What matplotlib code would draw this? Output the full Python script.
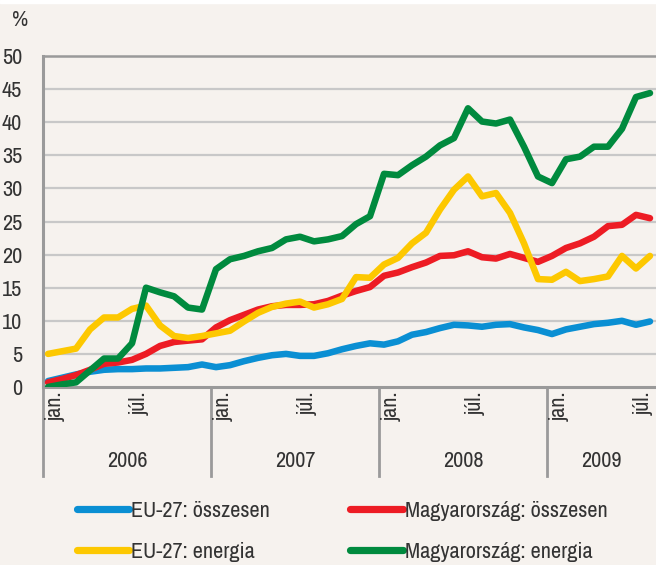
import numpy as np
import matplotlib
matplotlib.use("Agg")
from matplotlib import pyplot as plt
from matplotlib import font_manager
from matplotlib.transforms import blended_transform_factory

# a narrow face is closest to the original; fall back to Liberation Sans
fonts = font_manager.fontManager.ttflist
narrow = [f.name for f in fonts if "Narrow" in f.name or "Condensed" in f.name]
condensed_dejavu = any(f.name == "DejaVu Sans" and "condensed" in str(f.stretch)
                       for f in fonts)
if narrow:
    plt.rcParams["font.family"] = [narrow[0], "DejaVu Sans"]
    fs = 16
elif condensed_dejavu:
    plt.rcParams["font.family"] = ["DejaVu Sans"]
    plt.rcParams["font.stretch"] = "condensed"
    fs = 14
else:
    plt.rcParams["font.family"] = ["Liberation Sans", "DejaVu Sans"]
    fs = 14

# monthly values, jan. 2006 - aug. 2009 (%)
eu_total = [0.9, 1.4, 1.9, 2.3, 2.6, 2.7, 2.7, 2.8, 2.8, 2.9, 3.0, 3.4,
            3.0, 3.3, 3.9, 4.4, 4.8, 5.0, 4.7, 4.7, 5.1, 5.7, 6.2, 6.6,
            6.4, 6.9, 7.9, 8.3, 8.9, 9.4, 9.3, 9.1, 9.4, 9.5, 9.0, 8.6,
            8.0, 8.7, 9.1, 9.5, 9.7, 10.0, 9.4, 9.9]
hu_total = [0.7, 1.2, 1.8, 2.6, 3.5, 3.7, 4.1, 5.0, 6.2, 6.8, 7.0, 7.2,
            9.0, 10.1, 10.9, 11.7, 12.2, 12.4, 12.4, 12.5, 13.0, 13.8, 14.5, 15.1,
            16.8, 17.3, 18.1, 18.8, 19.8, 19.9, 20.5, 19.6, 19.4, 20.1, 19.5, 18.9,
            19.8, 21.0, 21.7, 22.7, 24.3, 24.5, 26.0, 25.5]
eu_energy = [5.0, 5.4, 5.8, 8.7, 10.5, 10.5, 11.8, 12.3, 9.3, 7.7, 7.4, 7.7,
             8.1, 8.5, 9.9, 11.2, 12.1, 12.6, 12.9, 12.0, 12.5, 13.3, 16.6, 16.5,
             18.5, 19.5, 21.7, 23.3, 26.8, 29.8, 31.8, 28.8, 29.3, 26.3, 21.7, 16.3,
             16.2, 17.4, 16.0, 16.3, 16.7, 19.8, 17.9, 19.8]
hu_energy = [0.0, 0.4, 0.7, 2.5, 4.3, 4.3, 6.6, 15.0, 14.3, 13.7, 12.0, 11.7,
             17.8, 19.3, 19.8, 20.5, 21.0, 22.3, 22.7, 22.0, 22.3, 22.8, 24.6, 25.8,
             32.2, 32.0, 33.5, 34.8, 36.5, 37.6, 42.1, 40.1, 39.8, 40.4, 36.3, 31.8,
             30.8, 34.4, 34.8, 36.3, 36.3, 39.0, 43.8, 44.4]

years = ["2006", "2007", "2008", "2009"]
series = [
    ("EU-27: összesen", eu_total, "#0a8fd3"),
    ("EU-27: energia", eu_energy, "#fdc800"),
    ("Magyarország: összesen", hu_total, "#ed1c24"),
    ("Magyarország: energia", hu_energy, "#008a3e"),
]

bg = "#f6f2ee"
txt = "#333333"

fig = plt.figure(figsize=(6.56, 5.65), dpi=100, facecolor=bg)
ax = fig.add_axes([43 / 656, 178 / 565, 613 / 656, 331 / 565])
ax.set_facecolor(bg)

months = np.arange(len(eu_total))
for label, vals, color in [series[0], series[2], series[1], series[3]]:
    ax.plot(months, vals, color=color, lw=4.7, solid_joinstyle="round",
            solid_capstyle="round", label=label, zorder=3)

ax.set_xlim(-0.36, 43.43)
ax.set_ylim(0, 50)
ax.set_yticks(np.arange(0, 51, 5))
ax.set_xticks([])
ax.tick_params(axis="y", length=0, pad=15, labelsize=fs, labelcolor=txt)

for v in range(5, 50, 5):
    ax.axhline(v, color="#c8c8c8", lw=1.6, zorder=1)
ax.axhline(50, color="#9a9a9a", lw=1.8, zorder=2, clip_on=False)

for s in ["top", "right"]:
    ax.spines[s].set_visible(False)
ax.spines["left"].set_color("#9a9a9a")
ax.spines["left"].set_linewidth(2.2)
ax.spines["bottom"].set_color("#9a9a9a")
ax.spines["bottom"].set_linewidth(2.2)

# month labels, year separators and year labels under the axis
tr = blended_transform_factory(ax.transData, ax.transAxes)
for k, year in enumerate(years):
    start = 12 * k - 0.36
    ax.plot([start, start], [0, -0.27], color="#9a9a9a", lw=2.0,
            transform=tr, clip_on=False)
    ax.text(12 * k - 0.15, -0.015, "jan.", rotation=90, ha="left", va="top",
            fontsize=fs, color=txt, transform=tr)
    ax.text(12 * k + 5.85, -0.015, "júl.", rotation=90, ha="left", va="top",
            fontsize=fs, color=txt, transform=tr)
    end = min(12 * k + 11.64, 43.43)
    ax.text((start + end) / 2, -0.225, year, ha="center", va="center",
            fontsize=fs, color=txt, transform=tr)

fig.text(12 / 656, 1 - 20 / 565, "%", fontsize=fs, color=txt,
         ha="left", va="center")

handles, labels = ax.get_legend_handles_labels()
order = [0, 2, 1, 3]
leg = fig.legend([handles[i] for i in order], [labels[i] for i in order],
                 ncol=2, loc="upper left", bbox_to_anchor=(57 / 656, 1 - 481 / 565),
                 frameon=False, fontsize=fs, handlelength=2.35, handletextpad=0.1,
                 columnspacing=3.6, labelspacing=0.95, labelcolor=txt)
for h in leg.legend_handles:
    h.set_linewidth(5.2)

fig.patches.append(plt.Rectangle((0, 1 - 3 / 565), 1, 3 / 565, transform=fig.transFigure,
                                 color="white", zorder=0))

fig.savefig("out.png", dpi=100, facecolor=bg)
